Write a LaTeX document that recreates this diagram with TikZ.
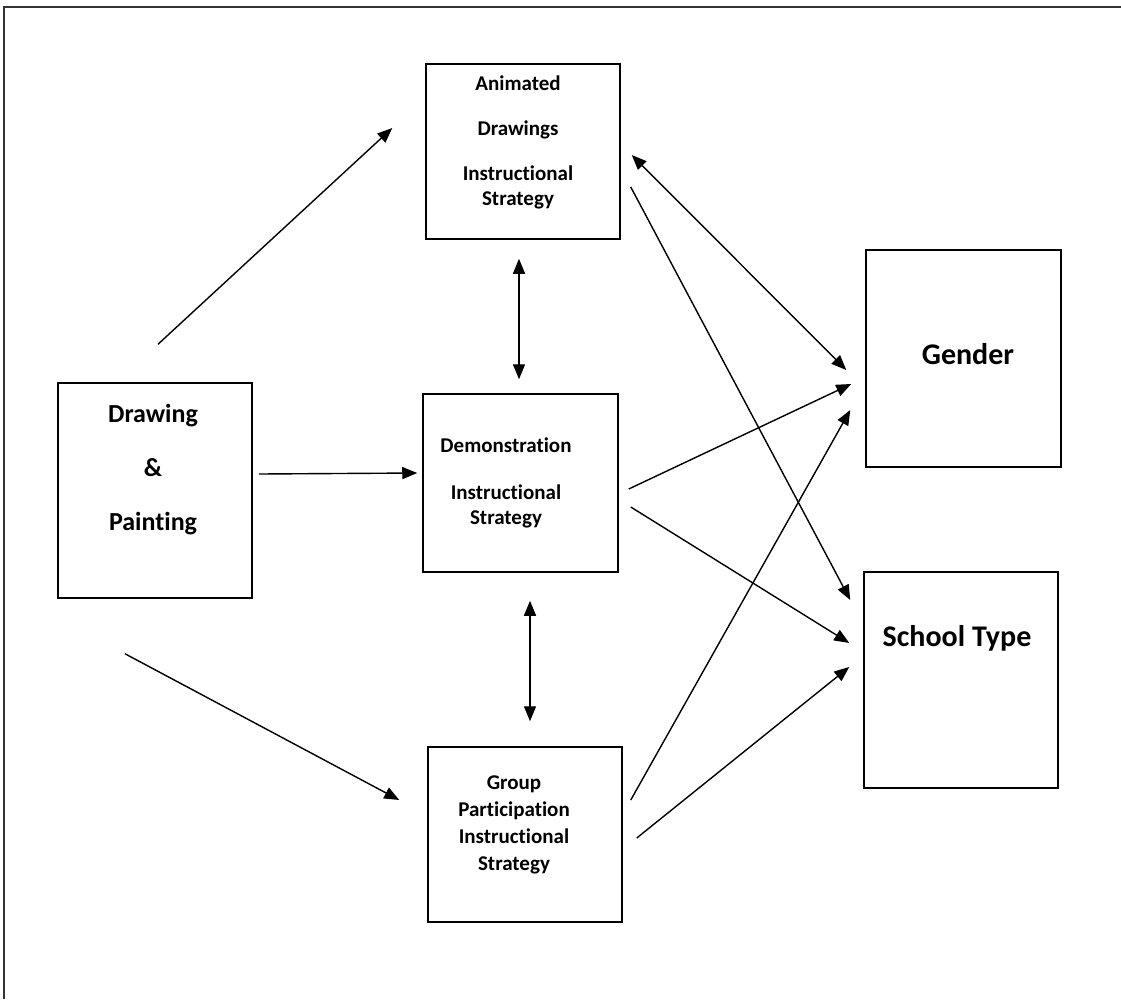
\documentclass[tikz,border=0pt]{standalone}
\usepackage{fontspec}
\setmainfont{Carlito}[Ligatures={NoCommon}]
\usepackage{tikz}
\usetikzlibrary{arrows.meta,positioning,calc}

\begin{document}
\begin{tikzpicture}[x=1pt,y=-1pt,
    box/.style={draw, line width=1.5pt, inner sep=0pt},
    txt/.style={align=center, inner sep=0pt, font=\fontsize{21}{25}\selectfont\bfseries},
    big/.style={inner sep=0pt, font=\fontsize{30}{34}\selectfont\bfseries},
    arr/.style={line width=1.4pt, -{Triangle[length=15pt,width=12pt]}},
    dbl/.style={line width=1.4pt, {Triangle[length=15pt,width=12pt]}-{Triangle[length=15pt,width=12pt]}}]
         \useasboundingbox (0,0) rectangle (1121,999);
         % frame
         \draw[line width=2pt, black!80] (4,999) -- (4,7) -- (1121,7);

         % Define nodes
         \node[box, minimum width=194, minimum height=175] (anim) at (523,151.5) {};
         \node[box, minimum width=194, minimum height=215] (draw) at (155,490.5) {};
         \node[box, minimum width=195, minimum height=178] (demo) at (520.5,483) {};
         \node[box, minimum width=194, minimum height=175] (group) at (525,834.5) {};
         \node[box, minimum width=195, minimum height=217] (gender) at (963.5,358.5) {};
         \node[box, minimum width=194, minimum height=216] (school) at (961,680) {};

         \node[txt] (anim-t) at (518,142) {Animated\\[20pt]Drawings\\[20pt]Instructional\\Strategy};
         \node[txt, font=\fontsize{26}{28}\selectfont\bfseries] (draw-t) at (153,470) {Drawing\\[26pt]\&\\[26pt]Painting};
         \node[txt] (demo-t) at (506,482.5) {Demonstration\\[22pt]Instructional\\Strategy};
         \node[txt, font=\fontsize{21}{27}\selectfont\bfseries] (group-t) at (514,824.5) {Group\\Participation\\Instructional\\Strategy};
         \node[big] (gender-t) at (968,354) {Gender};
         \node[big] (school-t) at (957,638) {School Type};

         % Draw edges
         \draw[arr] ($(draw.north)+(3,-38)$) -- ($(anim.west)+(-33,-23.5)$);
         \draw[arr] ($(draw.east)+(6,-16.5)$) -- ($(demo.west)+(-5,-10)$);
         \draw[arr] ($(draw.south)+(-30,55)$) -- ($(group.west)+(-28,-34.5)$);
         \draw[dbl] ($(anim.south)+(-4,19)$) -- ($(demo.north)+(-1.5,-14)$);
         \draw[dbl] ($(demo.south)+(9.5,28)$) -- ($(group.north)+(5,-25)$);
         \draw[dbl] ($(anim.east)+(11,3.5)$) -- ($(gender.west)+(-19,11.5)$);
         \draw[arr] ($(anim.east)+(10,35.5)$) -- ($(school.west)+(-13,-80)$);
         \draw[arr] ($(demo.east)+(10,6)$) -- ($(gender.west)+(-14,25.5)$);
         \draw[arr] ($(demo.east)+(12,24)$) -- ($(school.west)+(-14,-37)$);
         \draw[arr] ($(group.east)+(8,-34.5)$) -- ($(gender.west)+(-15,51.5)$);
         \draw[arr] ($(group.east)+(14,3.5)$) -- ($(school.west)+(-14,-13)$);
\end{tikzpicture}
\end{document}
